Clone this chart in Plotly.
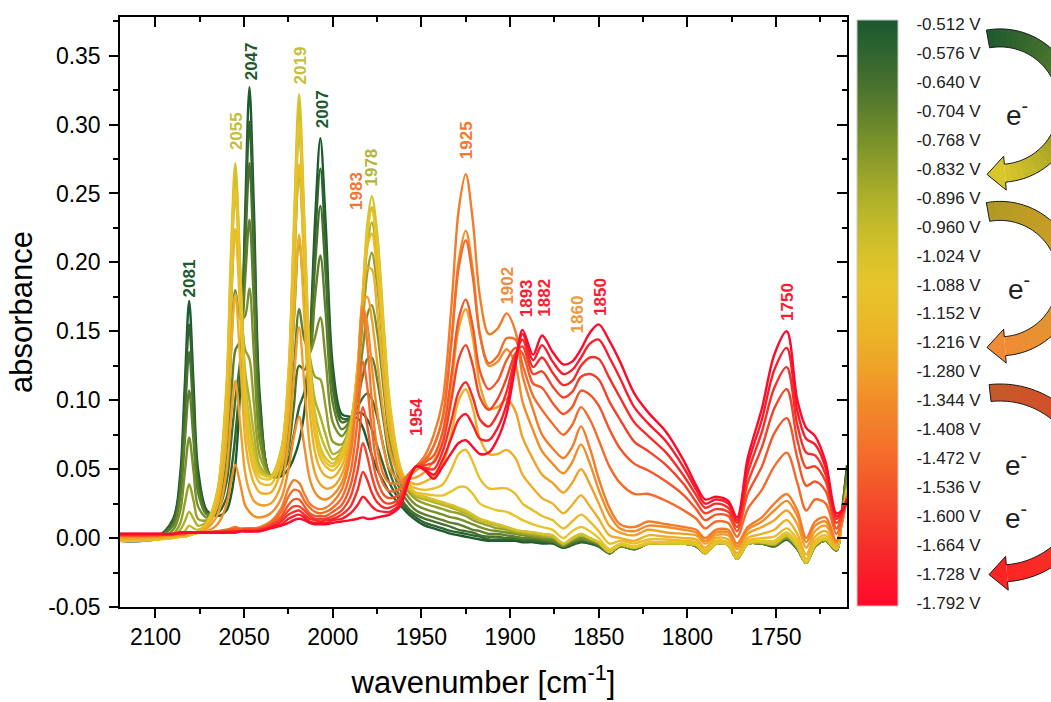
import math
import plotly.graph_objects as go

FONT = "Liberation Sans, Arial, sans-serif"

# ---------------- data ----------------
wavenumber = [2120, 2100, 2090, 2086, 2083.5, 2081, 2078.5, 2076, 2071, 2065, 2060, 2057.5,
              2055, 2052, 2049.5, 2047, 2044.5, 2041, 2035, 2029, 2025, 2022, 2019, 2016,
              2013, 2010, 2007, 2004, 2000, 1995, 1990, 1986, 1983, 1980.5, 1978, 1975,
              1971, 1968, 1962, 1957, 1953, 1948, 1943, 1938, 1933, 1929, 1925, 1921,
              1917, 1912, 1907, 1902, 1897, 1893, 1887, 1882, 1876, 1870, 1865, 1860,
              1855, 1850, 1844, 1838, 1830, 1822, 1812, 1802, 1795, 1790, 1784, 1777,
              1772, 1766, 1758, 1751, 1744, 1738, 1733, 1728, 1722, 1716, 1713, 1710]

potentials = [-0.512, -0.576, -0.640, -0.704, -0.768, -0.832, -0.896, -0.960, -1.024, -1.088,
              -1.152, -1.216, -1.280, -1.344, -1.408, -1.472, -1.536, -1.600, -1.664, -1.728, -1.792]

y_tick_values = [-0.05, 0.00, 0.05, 0.10, 0.15, 0.20, 0.25, 0.30, 0.35]
y_tick_labels = ['-0.05', '0.00', '0.05', '0.10', '0.15', '0.20', '0.25', '0.30', '0.35']

a_0512 = [-.002, .000, .014, .047, .110, .172, .111, .050, .020, .016, .020, .030,
          .052, .115, .232, .327, .240, .100, .045, .045, .050, .058, .070, .092,
          .140, .230, .290, .228, .125, .090, .088, .087, .080, .070, .060, .050,
          .040, .033, .024, .017, .013, .009, .007, .005, .003, .002, .001, .000,
          -.001, -.002, -.002, -.002, -.002, -.003, -.003, -.004, -.004, -.007, -.005, -.003,
          -.004, -.006, -.011, -.006, -.008, -.004, -.004, -.004, -.006, -.011, -.004, -.005,
          -.015, -.004, -.004, -.006, -.001, -.008, -.018, -.006, -.002, -.009, .018, .053]
a_0576 = [-.002, .000, .013, .042, .099, .155, .100, .045, .019, .018, .029, .047,
          .074, .123, .220, .302, .222, .095, .045, .047, .057, .075, .095, .106,
          .139, .216, .268, .211, .118, .087, .087, .091, .090, .086, .079, .067,
          .051, .040, .027, .019, .015, .011, .009, .007, .005, .004, .003, .002,
          .001, -.001, -.001, -.001, -.001, -.002, -.002, -.003, -.003, -.007, -.005, -.002,
          -.004, -.006, -.011, -.006, -.008, -.004, -.004, -.004, -.006, -.011, -.004, -.005,
          -.015, -.004, -.004, -.006, -.001, -.008, -.018, -.006, -.002, -.009, .017, .051]
a_0640 = [-.002, .000, .011, .037, .086, .135, .087, .040, .018, .020, .040, .068,
          .100, .132, .205, .272, .200, .088, .045, .049, .065, .095, .125, .122,
          .138, .198, .241, .191, .109, .084, .087, .095, .102, .105, .101, .088,
          .064, .048, .030, .021, .017, .014, .012, .010, .008, .006, .005, .004,
          .002, .001, .001, .000, .000, -.001, -.001, -.002, -.003, -.006, -.004, -.002,
          -.003, -.005, -.011, -.006, -.008, -.004, -.004, -.004, -.006, -.011, -.004, -.005,
          -.015, -.004, -.004, -.006, .000, -.008, -.018, -.006, -.002, -.009, .017, .049]
a_0704 = [-.002, .000, .009, .030, .069, .107, .070, .033, .017, .023, .054, .096,
          .136, .144, .186, .231, .171, .080, .045, .053, .077, .121, .166, .144,
          .136, .175, .205, .163, .098, .079, .086, .101, .118, .130, .131, .115,
          .082, .058, .035, .025, .020, .017, .015, .013, .011, .010, .008, .006,
          .005, .003, .003, .002, .001, .000, .000, -.001, -.002, -.006, -.003, -.001,
          -.002, -.005, -.011, -.006, -.008, -.004, -.004, -.004, -.006, -.011, -.004, -.005,
          -.015, -.004, -.004, -.005, .000, -.007, -.018, -.006, -.002, -.009, .016, .046]
a_0768 = [-.002, -.001, .006, .020, .047, .073, .048, .023, .015, .027, .072, .131,
          .180, .159, .161, .181, .134, .069, .045, .057, .091, .155, .216, .172,
          .134, .146, .160, .129, .084, .074, .085, .109, .138, .162, .169, .150,
          .104, .072, .040, .029, .024, .021, .019, .017, .015, .014, .012, .010,
          .008, .006, .005, .004, .003, .002, .001, .000, -.001, -.005, -.002, .000,
          -.002, -.004, -.010, -.006, -.007, -.004, -.004, -.004, -.006, -.011, -.004, -.005,
          -.015, -.004, -.004, -.005, .000, -.007, -.018, -.006, -.002, -.009, .015, .043]
a_0832 = [-.002, -.001, .003, .011, .025, .039, .027, .014, .013, .031, .090, .166,
          .224, .174, .137, .130, .098, .059, .045, .061, .105, .188, .267, .200,
          .132, .117, .115, .095, .070, .068, .083, .117, .158, .193, .207, .184,
          .126, .085, .046, .033, .028, .025, .023, .021, .019, .018, .016, .013,
          .011, .009, .007, .006, .004, .003, .002, .001, .001, -.005, -.001, .002,
          -.001, -.004, -.010, -.005, -.007, -.004, -.004, -.004, -.005, -.011, -.004, -.005,
          -.015, -.004, -.003, -.005, .001, -.007, -.018, -.005, -.001, -.008, .013, .039]
a_0896 = [-.002, -.001, .001, .006, .012, .019, .014, .009, .012, .033, .101, .187,
          .250, .183, .122, .100, .076, .052, .045, .063, .113, .208, .297, .216,
          .131, .100, .088, .075, .061, .065, .083, .121, .170, .212, .229, .205,
          .139, .093, .049, .035, .030, .028, .026, .024, .022, .020, .018, .015,
          .013, .011, .009, .007, .005, .004, .003, .002, .001, -.004, -.001, .002,
          .000, -.003, -.010, -.005, -.007, -.004, -.004, -.004, -.005, -.011, -.004, -.005,
          -.015, -.004, -.003, -.004, .002, -.006, -.018, -.005, -.001, -.008, .013, .037]
a_0960 = [-.002, -.001, .001, .003, .005, .009, .007, .006, .011, .034, .106, .197,
          .263, .187, .115, .085, .065, .049, .045, .064, .117, .218, .312, .224,
          .130, .091, .075, .065, .057, .063, .082, .123, .176, .222, .240, .215,
          .146, .097, .051, .036, .031, .029, .027, .025, .023, .021, .019, .016,
          .013, .011, .010, .008, .006, .005, .004, .003, .002, -.004, .000, .003,
          .000, -.003, -.010, -.005, -.007, -.004, -.004, -.004, -.005, -.011, -.004, -.005,
          -.015, -.004, -.003, -.004, .002, -.006, -.018, -.005, -.001, -.008, .012, .036]
a_1024 = [-.002, -.001, .000, .001, .001, .002, .003, .004, .011, .035, .110, .204,
          .272, .190, .110, .075, .058, .047, .045, .065, .120, .225, .322, .230,
          .130, .085, .066, .058, .054, .062, .082, .125, .180, .228, .248, .222,
          .150, .100, .052, .037, .032, .030, .028, .026, .024, .022, .020, .017,
          .014, .012, .010, .008, .006, .005, .004, .003, .002, -.004, .000, .003,
          .000, -.003, -.010, -.005, -.007, -.004, -.004, -.004, -.005, -.011, -.004, -.005,
          -.015, -.004, -.003, -.004, .002, -.006, -.018, -.005, -.001, -.008, .012, .035]
a_1088 = [-.002, -.001, .000, .001, .001, .002, .003, .004, .011, .033, .103, .190,
          .254, .177, .103, .070, .054, .044, .043, .062, .114, .212, .302, .216,
          .123, .081, .063, .055, .052, .060, .080, .124, .179, .222, .238, .211,
          .143, .096, .051, .038, .033, .032, .031, .031, .034, .037, .037, .032,
          .025, .022, .020, .019, .016, .013, .010, .008, .006, .000, .005, .008,
          .005, .000, -.008, -.004, -.006, -.003, -.003, -.003, -.004, -.010, -.003, -.004,
          -.014, -.003, -.002, -.002, .004, -.004, -.017, -.004, .000, -.008, .012, .035]
a_1152 = [-.001, -.001, .001, .001, .001, .002, .003, .004, .010, .030, .091, .169,
          .224, .157, .091, .063, .049, .040, .039, .057, .105, .192, .271, .194,
          .111, .074, .058, .052, .049, .057, .078, .122, .177, .212, .221, .194,
          .131, .089, .050, .039, .036, .035, .036, .039, .050, .061, .064, .055,
          .043, .036, .036, .036, .032, .025, .020, .016, .013, .007, .012, .017,
          .012, .005, -.004, -.002, -.004, -.001, -.001, -.002, -.003, -.009, -.002, -.003,
          -.013, -.002, .000, .001, .007, -.001, -.015, -.002, .002, -.007, .012, .034]
a_1216 = [-.001, .000, .001, .002, .002, .003, .003, .004, .008, .024, .073, .133,
          .177, .124, .073, .051, .040, .033, .033, .050, .090, .159, .220, .159,
          .092, .062, .050, .045, .044, .052, .074, .120, .175, .196, .195, .165,
          .112, .078, .048, .041, .039, .041, .045, .053, .077, .100, .108, .094,
          .072, .061, .061, .064, .058, .046, .036, .029, .025, .018, .024, .031,
          .023, .014, .002, .000, -.002, .002, .001, .000, -.001, -.007, .000, -.001,
          -.011, .000, .003, .006, .013, .003, -.012, .001, .005, -.006, .011, .033]
a_1280 = [.000, .001, .002, .002, .002, .003, .004, .004, .007, .017, .048, .086,
          .114, .080, .048, .034, .027, .024, .025, .039, .070, .115, .153, .111,
          .067, .047, .039, .036, .037, .046, .069, .116, .171, .175, .159, .128,
          .087, .064, .045, .043, .044, .048, .056, .070, .112, .152, .166, .145,
          .111, .094, .095, .101, .092, .073, .057, .046, .040, .033, .040, .050,
          .039, .025, .009, .004, .002, .006, .004, .003, .002, -.004, .002, .002,
          -.008, .003, .008, .013, .020, .010, -.007, .005, .009, -.004, .011, .032]
a_1344 = [.001, .001, .002, .003, .003, .004, .004, .004, .005, .010, .024, .040,
          .053, .038, .024, .019, .016, .015, .018, .029, .050, .073, .088, .066,
          .043, .033, .029, .028, .031, .040, .064, .113, .168, .155, .125, .092,
          .063, .050, .042, .045, .049, .055, .067, .087, .145, .201, .223, .194,
          .148, .125, .128, .137, .126, .099, .078, .063, .054, .047, .055, .068,
          .054, .035, .017, .007, .005, .009, .008, .006, .004, -.002, .004, .004,
          -.006, .006, .012, .020, .027, .016, -.003, .009, .012, -.003, .010, .031]
a_1408 = [.002, .002, .003, .003, .003, .004, .004, .004, .004, .005, .006, .007,
          .008, .007, .007, .007, .007, .008, .012, .022, .036, .042, .040, .032,
          .025, .022, .021, .022, .026, .035, .060, .110, .165, .140, .100, .065,
          .045, .040, .040, .047, .052, .060, .075, .100, .170, .238, .264, .230,
          .175, .148, .152, .163, .150, .118, .093, .075, .065, .058, .066, .081,
          .065, .043, .022, .010, .008, .012, .010, .008, .006, .000, .006, .006,
          -.004, .008, .015, .025, .032, .020, .000, .012, .015, -.002, .010, .030]
a_1472 = [.002, .002, .003, .003, .003, .004, .004, .004, .004, .005, .006, .006,
          .007, .006, .007, .007, .007, .007, .011, .019, .030, .035, .034, .027,
          .022, .019, .018, .019, .022, .029, .048, .086, .128, .109, .079, .053,
          .038, .034, .036, .046, .052, .057, .067, .088, .143, .196, .216, .189,
          .147, .127, .132, .145, .144, .126, .103, .093, .083, .075, .082, .095,
          .086, .071, .052, .040, .032, .032, .027, .020, .014, .007, .012, .011,
          .001, .021, .035, .052, .062, .040, .020, .028, .025, .003, .013, .030]
a_1536 = [.002, .002, .003, .003, .003, .004, .004, .004, .004, .005, .005, .006,
          .006, .006, .006, .006, .006, .007, .010, .016, .024, .028, .028, .023,
          .018, .016, .016, .016, .019, .024, .038, .065, .095, .081, .060, .042,
          .031, .029, .032, .045, .052, .055, .060, .077, .119, .159, .173, .153,
          .121, .108, .114, .129, .138, .134, .112, .109, .098, .090, .095, .107,
          .104, .096, .079, .065, .054, .049, .041, .031, .021, .013, .017, .016,
          .005, .032, .052, .076, .087, .058, .038, .041, .034, .007, .015, .029]
a_1600 = [.003, .003, .003, .004, .004, .004, .004, .004, .004, .004, .005, .005,
          .005, .005, .006, .006, .006, .006, .009, .014, .020, .023, .023, .020,
          .016, .014, .014, .014, .016, .020, .030, .049, .069, .059, .045, .033,
          .026, .025, .029, .044, .052, .053, .055, .069, .101, .130, .140, .125,
          .102, .093, .101, .116, .134, .139, .119, .121, .110, .102, .106, .117,
          .119, .115, .099, .086, .070, .063, .053, .039, .026, .018, .021, .019,
          .008, .040, .066, .094, .108, .071, .051, .052, .041, .011, .016, .029]
a_1664 = [.003, .003, .003, .004, .004, .004, .004, .004, .004, .004, .004, .005,
          .005, .005, .005, .005, .005, .006, .008, .012, .017, .019, .020, .017,
          .014, .013, .012, .013, .014, .017, .023, .035, .048, .042, .033, .026,
          .022, .022, .027, .043, .052, .051, .050, .063, .086, .106, .113, .102,
          .086, .081, .090, .106, .131, .144, .124, .131, .120, .111, .114, .125,
          .131, .130, .116, .102, .084, .074, .062, .045, .031, .022, .025, .022,
          .011, .047, .077, .109, .124, .082, .062, .060, .046, .014, .018, .028]
a_1728 = [.003, .003, .003, .004, .004, .004, .004, .004, .004, .004, .004, .004,
          .004, .005, .005, .005, .005, .005, .008, .010, .014, .016, .017, .015,
          .012, .011, .011, .011, .013, .014, .018, .024, .030, .027, .023, .020,
          .019, .019, .025, .043, .052, .050, .046, .057, .073, .086, .090, .082,
          .072, .071, .080, .097, .128, .148, .129, .140, .128, .119, .122, .131,
          .141, .144, .131, .116, .095, .083, .070, .051, .035, .025, .028, .025,
          .013, .053, .086, .122, .138, .092, .072, .068, .051, .016, .019, .028]
a_1792 = [.003, .003, .003, .004, .004, .004, .004, .004, .004, .004, .004, .004,
          .004, .005, .005, .005, .005, .005, .007, .009, .011, .013, .014, .013,
          .011, .010, .010, .010, .011, .012, .013, .014, .015, .014, .014, .015,
          .016, .017, .023, .042, .052, .049, .043, .052, .062, .069, .071, .066,
          .061, .062, .072, .090, .125, .151, .133, .147, .135, .126, .128, .137,
          .149, .155, .143, .128, .105, .091, .077, .056, .038, .028, .030, .027,
          .015, .058, .094, .133, .150, .100, .080, .074, .055, .018, .020, .028]

spectra = [a_0512, a_0576, a_0640, a_0704, a_0768, a_0832, a_0896, a_0960, a_1024, a_1088,
           a_1152, a_1216, a_1280, a_1344, a_1408, a_1472, a_1536, a_1600, a_1664, a_1728, a_1792]

# colour of each potential (same order as potentials)
potential_colors = ['#1c5a30', '#30642f', '#46702e', '#5e802c', '#77902a', '#94a02a', '#aeb02a',
                    '#c4ba2a', '#d8c22a', '#e6c42a', '#eabc28', '#ecb028', '#efa028', '#f18c28',
                    '#f37c2a', '#f46a2a', '#f4562a', '#f4422a', '#f62e2a', '#fa1c2a', '#ff0a2a']

peak_labels = ['2081', '2055', '2047', '2019', '2007', '1983', '1978', '1954', '1925',
               '1902', '1893', '1882', '1860', '1850', '1750']
peak_label_x = [2080.8, 2054.2, 2046.0, 2018.4, 2005.6, 1986.8, 1978.3, 1952.9, 1924.6,
                1901.3, 1891.0, 1880.6, 1861.9, 1848.7, 1743.5]
peak_label_y = [0.188, 0.295, 0.346, 0.343, 0.311, 0.252, 0.269, 0.088, 0.289,
                0.183, 0.174, 0.174, 0.162, 0.175, 0.171]
peak_label_colors = ['#1e5a30', '#c4c03a', '#1e5a30', '#c4c03a', '#1e5a30', '#f07830', '#b4b43a',
                     '#ff1a30', '#f07830', '#f08c3c', '#ff1a30', '#ff1a30', '#f0983c', '#ff1a30',
                     '#ff1a30']

# ---------------- layout geometry ----------------
W, H = 1051, 702
ML, MR, MT, MB = 120, 204, 17, 95
PW = W - ML - MR
PH = H - MT - MB
PBOT = H - MB

X_RANGE = [2120, 1710]
Y_RANGE = [-0.05, 0.378]

fig = go.Figure()

for vals, v, col in zip(spectra, potentials, potential_colors):
    fig.add_trace(go.Scatter(
        x=wavenumber, y=vals, mode='lines',
        line=dict(color=col, width=2.4, shape='spline', smoothing=0.9),
        showlegend=False, hoverinfo='skip', name=f'{v:.3f} V'))

# colour bar
cmin, cmax = -1.7986, -0.5030
cs = [[0.0, potential_colors[-1]]]
for v, c in zip(potentials[::-1], potential_colors[::-1]):
    cs.append([(v - cmin) / (cmax - cmin), c])
cs.append([1.0, potential_colors[0]])

bar_top, bar_bot = 20, 606
fig.add_trace(go.Scatter(
    x=[2300, 2300], y=[0, 0], mode='markers',
    marker=dict(size=1, color=[cmin, cmax], cmin=cmin, cmax=cmax, colorscale=cs, showscale=True,
                colorbar=dict(thickness=41, thicknessmode='pixels',
                              len=(bar_bot - bar_top) / PH, lenmode='fraction',
                              x=(857 - ML) / PW, xanchor='left',
                              y=(PBOT - (bar_top + bar_bot) / 2) / PH, yanchor='middle',
                              xpad=0, ypad=0, outlinewidth=1, outlinecolor='#c8c8c8',
                              tickvals=potentials, ticktext=[f'{v:.3f} V' for v in potentials],
                              ticks='outside', ticklen=15, tickcolor='rgba(0,0,0,0)',
                              tickfont=dict(family=FONT, size=17, color='#222222'))),
    showlegend=False, hoverinfo='skip'))

# dummy trace for mirrored (inside-tick) axes
fig.add_trace(go.Scatter(x=[2300], y=[0], xaxis='x2', yaxis='y2', mode='markers',
                         marker=dict(size=1, opacity=0), showlegend=False, hoverinfo='skip'))

tick_common = dict(tickcolor='black', tickwidth=1.5, linecolor='black', linewidth=1.5,
                   showline=True, showgrid=False, zeroline=False)

fig.update_layout(
    width=W, height=H,
    margin=dict(l=ML, r=MR, t=MT, b=MB, autoexpand=False),
    paper_bgcolor='white', plot_bgcolor='white',
    font=dict(family=FONT, color='black'),
    xaxis=dict(range=X_RANGE, tick0=2100, dtick=50, ticks='outside', ticklen=9,
               minor=dict(dtick=25, ticks='outside', ticklen=5, tickwidth=1.5, tickcolor='black'),
               tickfont=dict(size=23, family=FONT),
               title=dict(text='wavenumber [cm<sup>-1</sup>]', font=dict(size=31, family=FONT),
                          standoff=22),
               **tick_common),
    yaxis=dict(range=Y_RANGE, tickmode='array', tickvals=y_tick_values, ticktext=y_tick_labels,
               ticks='outside', ticklen=9,
               minor=dict(dtick=0.025, tick0=0, ticks='outside', ticklen=5, tickwidth=1.5,
                          tickcolor='black'),
               tickfont=dict(size=23, family=FONT), ticklabelstandoff=4,
               title=dict(text='absorbance', font=dict(size=31, family=FONT), standoff=6),
               **tick_common),
    xaxis2=dict(range=X_RANGE, overlaying='x', side='top', tick0=2100, dtick=50,
                ticks='inside', ticklen=10, showticklabels=False,
                minor=dict(dtick=25, ticks='inside', ticklen=5, tickwidth=1.5, tickcolor='black'),
                **tick_common),
    yaxis2=dict(range=Y_RANGE, overlaying='y', side='right', tick0=0, dtick=0.05,
                ticks='inside', ticklen=10, showticklabels=False,
                minor=dict(dtick=0.025, ticks='inside', ticklen=5, tickwidth=1.5, tickcolor='black'),
                **tick_common),
)

# peak labels
for txt, x, y, c in zip(peak_labels, peak_label_x, peak_label_y, peak_label_colors):
    fig.add_annotation(x=x, y=y, xref='x', yref='y', text=f'<b>{txt}</b>', showarrow=False,
                       textangle=-90, xanchor='center', yanchor='middle',
                       font=dict(family=FONT, size=17, color=c))


# ---------------- curved electron-transfer arrows ----------------
def to_paper(px, py):
    return (px - ML) / PW, (PBOT - py) / PH


def arc(cx, cy, r, a0, a1, n):
    pts = []
    for k in range(n + 1):
        a = math.radians(a0 + (a1 - a0) * k / n)
        pts.append((cx + r * math.cos(a), cy - r * math.sin(a)))
    return pts


def path_of(pts):
    parts = []
    for i, (px, py) in enumerate(pts):
        X, Y = to_paper(px, py)
        parts.append(('M' if i == 0 else 'L') + f'{X:.5f},{Y:.5f}')
    return ' '.join(parts) + ' Z'


def hex_rgb(h):
    h = h.lstrip('#')
    return tuple(int(h[i:i + 2], 16) for i in (0, 2, 4))


def grad(stops, t):
    for (t0, c0), (t1, c1) in zip(stops[:-1], stops[1:]):
        if t0 <= t <= t1:
            f = (t - t0) / (t1 - t0) if t1 > t0 else 0
            a, b = hex_rgb(c0), hex_rgb(c1)
            return 'rgb(%d,%d,%d)' % tuple(round(a[i] + (b[i] - a[i]) * f) for i in range(3))
    return stops[-1][1]


def add_arrow(cx, cy, rm, hb, a0, a1, hw, hl, stops):
    nseg = 36
    ro, ri = rm + hb, rm - hb
    for k in range(nseg):
        t0 = a0 + (a1 - a0) * k / nseg
        t1 = a0 + (a1 - a0) * min(k + 1.3, nseg) / nseg
        poly = arc(cx, cy, ro, t0, t1, 3) + arc(cx, cy, ri, t1, t0, 3)
        fig.add_shape(type='path', xref='paper', yref='paper', path=path_of(poly),
                      fillcolor=grad(stops, (k + 0.5) / nseg), line=dict(width=0), layer='above')
    a = math.radians(a1)
    bx, by = cx + rm * math.cos(a), cy - rm * math.sin(a)
    ux, uy = math.cos(a), -math.sin(a)
    tx, ty = math.sin(a), math.cos(a)
    h_out = (bx + ux * hw, by + uy * hw)
    h_in = (bx - ux * hw, by - uy * hw)
    tip = (bx + tx * hl, by + ty * hl)
    fig.add_shape(type='path', xref='paper', yref='paper', path=path_of([h_out, tip, h_in]),
                  fillcolor=stops[-1][1], line=dict(width=0), layer='above')
    outline = arc(cx, cy, ro, a0, a1, 80) + [h_out, tip, h_in] + arc(cx, cy, ri, a1, a0, 80)
    fig.add_shape(type='path', xref='paper', yref='paper', path=path_of(outline),
                  fillcolor='rgba(0,0,0,0)', line=dict(color='#1a1a1a', width=1), layer='above')


add_arrow(1000, 105.6, 67.7, 9, 100.2, -85.8, 17, 18,
          [(0, '#1d5a2f'), (0.45, '#5e7e2a'), (0.8, '#b4ac2a'), (1, '#d8c62a')])
add_arrow(1000, 278.6, 67.7, 9.5, 100.2, -85.8, 17, 18,
          [(0, '#b09a22'), (0.5, '#d6a02a'), (1, '#f08a35')])
add_arrow(1000, 483, 90.5, 8.5, 96.3, -85.6, 17, 18,
          [(0, '#c45a2a'), (0.5, '#e8442a'), (1, '#ff2424')])

for (px, py) in [(1017, 113), (1019, 287), (1016, 463), (1016, 516)]:
    X, Y = to_paper(px, py)
    fig.add_annotation(x=X, y=Y, xref='paper', yref='paper', text='e<sup>-</sup>',
                       showarrow=False, xanchor='center', yanchor='middle',
                       font=dict(family=FONT, size=28, color='#222222'))

fig.write_html('out.html',
               config={'displayModeBar': False},
               post_script="document.body.style.margin='0px';"
                           "document.body.style.overflow='hidden';")
